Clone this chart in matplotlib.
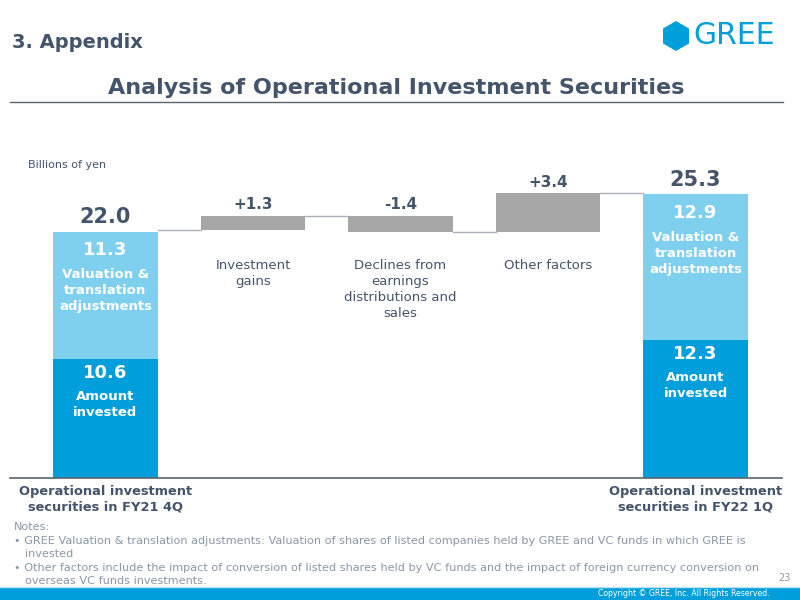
import matplotlib
matplotlib.use("Agg")
import matplotlib.pyplot as plt
from matplotlib.patches import RegularPolygon, Rectangle
import matplotlib.transforms as mtransforms

# ---------------- data ----------------
categories = ["Operational investment\nsecurities in FY21 4Q",
              "Investment\ngains",
              "Declines from\nearnings\ndistributions and\nsales",
              "Other factors",
              "Operational investment\nsecurities in FY22 1Q"]
amount_invested = [10.6, 12.3]          # start, end
valuation_adj = [11.3, 12.9]            # start, end
totals = [22.0, 25.3]
changes = [1.3, -1.4, 3.4]
change_labels = ["+1.3", "-1.4", "+3.4"]
total_labels = ["22.0", "25.3"]

DARK = "#44546a"
LIGHTBLUE = "#7fcfee"
BLUE = "#009fdb"
GRAY = "#a6a6a6"
NOTEGRAY = "#8a97a8"

plt.rcParams['font.family'] = ['DejaVu Sans']

fig = plt.figure(figsize=(8, 6), dpi=100)
fig.patch.set_facecolor("white")

# ---------- decoration axes in pixel coordinates ----------
deco = fig.add_axes([0, 0, 1, 1], zorder=0)
deco.set_xlim(0, 800)
deco.set_ylim(600, 0)
deco.axis("off")

deco.text(12, 42, "3. Appendix", fontsize=14, fontweight="bold", color=DARK,
          va="center", ha="left")
deco.text(396, 88, "Analysis of Operational Investment Securities", fontsize=16,
          fontweight="bold", color=DARK, va="center", ha="center")
deco.plot([10, 783], [102, 102], color="#5a6470", lw=1)

# logo
deco.add_patch(RegularPolygon((676, 36), numVertices=6, radius=15, orientation=0,
                              facecolor=BLUE, edgecolor="none"))
deco.text(693, 36, "GREE", fontsize=21.5, color=BLUE, va="center", ha="left")

# footer
deco.add_patch(Rectangle((0, 587), 800, 13, facecolor=BLUE, edgecolor="none"))
deco.plot([0, 800], [586.5, 586.5], color="#bfe6f6", lw=1)
deco.text(770, 593.5, "Copyright © GREE, Inc. All Rights Reserved.", fontsize=5.6,
          color="white", ha="right", va="center")
deco.text(791, 578, "23", fontsize=7, color=NOTEGRAY, ha="right", va="center")

# notes
notes = [(14, 527, "Notes:"),
         (14, 541, "\u2022 GREE Valuation & translation adjustments: Valuation of shares of listed companies held by GREE and VC funds in which GREE is"),
         (25, 554, "invested"),
         (14, 568, "\u2022 Other factors include the impact of conversion of listed shares held by VC funds and the impact of foreign currency conversion on"),
         (25, 581, "overseas VC funds investments.")]
for x, y, t in notes:
    deco.text(x, y, t, fontsize=8.1, color=NOTEGRAY, ha="left", va="center")

deco.text(28, 165, "Billions of yen", fontsize=8, color=DARK, ha="left", va="center")

# ---------- chart axes ----------
ax = fig.add_axes([10 / 800, (600 - 478) / 600, 772 / 800, 328 / 600], zorder=1)
ax.patch.set_alpha(0)
ax.set_xlim(-0.647, 4.586)
ax.set_ylim(0, 29.15)
for s in ["top", "right", "left"]:
    ax.spines[s].set_visible(False)
ax.spines["bottom"].set_color("#5a6470")
ax.spines["bottom"].set_linewidth(1.2)
ax.set_yticks([])

w = 0.71
pos_total = [0, 4]
# stacked totals
ax.bar(pos_total, amount_invested, width=w, color=BLUE, zorder=2)
ax.bar(pos_total, valuation_adj, width=w, bottom=amount_invested, color=LIGHTBLUE, zorder=2)

# waterfall changes
level = totals[0]
levels = [level]
for i, c in enumerate(changes):
    x = i + 1
    bottom = level if c >= 0 else level + c
    ax.bar(x, abs(c), width=w, bottom=bottom, color=GRAY, zorder=2)
    ax.text(x, max(level, level + c) + 0.3, change_labels[i], ha="center", va="bottom",
            fontsize=11, fontweight="bold", color=DARK)
    level += c
    levels.append(level)

# connectors
for x, lv in enumerate(levels):
    ax.plot([x + w / 2, x + 1 - w / 2], [lv, lv], color="#aab2bb", lw=1, zorder=1)

# totals labels
for p, t, lab in zip(pos_total, totals, total_labels):
    ax.text(p, t + 0.3, lab, ha="center", va="bottom", fontsize=15,
            fontweight="bold", color=DARK)

# inside labels
for p, a, v in zip(pos_total, amount_invested, valuation_adj):
    ax.text(p, a + v - 0.85, f"{v:.1f}", ha="center", va="top", fontsize=13,
            fontweight="bold", color="white")
    ax.text(p, a + v - 3.25, "Valuation &\ntranslation\nadjustments", ha="center", va="top",
            fontsize=9.5, fontweight="bold", color="white", linespacing=1.3)
    ax.text(p, a - 0.5, f"{a:.1f}", ha="center", va="top", fontsize=13,
            fontweight="bold", color="white")
    ax.text(p, a - 2.75, "Amount\ninvested", ha="center", va="top",
            fontsize=9.5, fontweight="bold", color="white", linespacing=1.3)

# category labels for change bars
trans = mtransforms.blended_transform_factory(ax.transData, ax.transAxes)
for i in range(1, 4):
    ax.text(i, (478 - 259) / 328, categories[i], transform=trans, ha="center", va="top",
            fontsize=9.5, color=DARK, linespacing=1.3)

ax.set_xticks(pos_total)
ax.set_xticklabels([categories[0], categories[4]], fontsize=9.4, fontweight="bold",
                   color=DARK, linespacing=1.25)
ax.tick_params(axis="x", length=0, pad=5)

fig.savefig("out.png", dpi=100, facecolor="white")
